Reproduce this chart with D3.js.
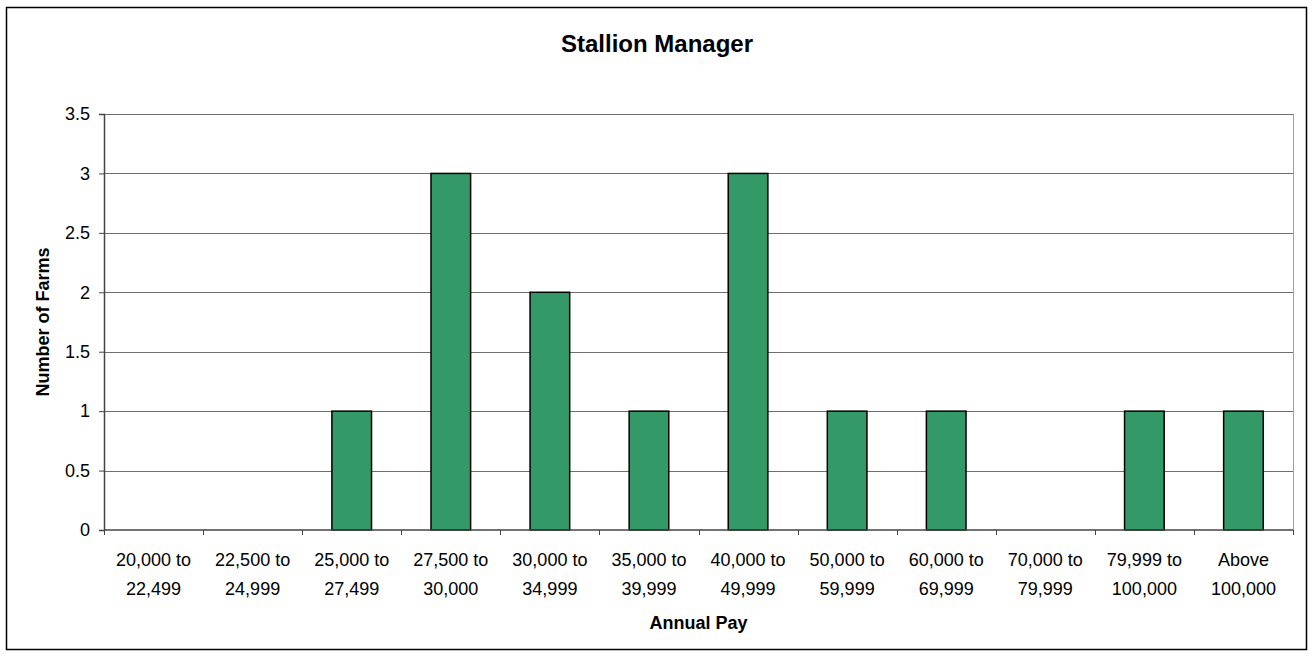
<!DOCTYPE html>
<html>
<head>
<meta charset="utf-8">
<script src="https://cdn.jsdelivr.net/npm/d3@7"></script>
<style>
  body { margin: 0; background: #fff; }
  svg { font-family: "Liberation Sans", Arial, sans-serif; }
</style>
</head>
<body>
<svg id="chart"></svg>
<script>
// chart data
const categories = [
  ["20,000 to", "22,499"], ["22,500 to", "24,999"], ["25,000 to", "27,499"],
  ["27,500 to", "30,000"], ["30,000 to", "34,999"], ["35,000 to", "39,999"],
  ["40,000 to", "49,999"], ["50,000 to", "59,999"], ["60,000 to", "69,999"],
  ["70,000 to", "79,999"], ["79,999 to", "100,000"], ["Above", "100,000"]
];
const farms = [0, 0, 1, 3, 2, 1, 3, 1, 1, 0, 1, 1];
const yTicks = [0, 0.5, 1, 1.5, 2, 2.5, 3, 3.5];

const width = 1312, height = 660;
const margin = { top: 114, right: 19, bottom: 130, left: 104 };
const innerW = width - margin.left - margin.right;
const innerH = height - margin.top - margin.bottom;

const svg = d3.select('#chart').attr('width', width).attr('height', height);

// outer frame
svg.append('rect')
  .attr('x', 6.5).attr('y', 7.5)
  .attr('width', 1300).attr('height', 642)
  .attr('fill', 'none').attr('stroke', '#000').attr('stroke-width', 1.5);

const x = d3.scaleBand()
  .domain(d3.range(categories.length))
  .range([0, innerW])
  .paddingInner(0.6).paddingOuter(0.3);

const y = d3.scaleLinear().domain([0, 3.5]).range([innerH, 0]);

const g = svg.append('g').attr('transform', `translate(${margin.left},${margin.top})`);

// gridlines
g.selectAll('.grid')
  .data(yTicks.filter(d => d > 0))
  .enter().append('line')
  .attr('x1', 0).attr('x2', innerW)
  .attr('y1', d => Math.round(y(d)) + 0.5).attr('y2', d => Math.round(y(d)) + 0.5)
  .attr('stroke', '#6e6e6e').attr('stroke-width', 1);

// right edge of plot area
g.append('line')
  .attr('x1', innerW + 0.5).attr('x2', innerW + 0.5)
  .attr('y1', 0).attr('y2', innerH)
  .attr('stroke', '#a0a0a0');

// bars (skip empty categories)
const barData = farms.map((v, i) => ({ i, v })).filter(d => d.v > 0);
g.selectAll('.bar')
  .data(barData)
  .enter().append('rect')
  .attr('x', d => x(d.i))
  .attr('y', d => y(d.v))
  .attr('width', x.bandwidth())
  .attr('height', d => innerH - y(d.v))
  .attr('fill', '#339966')
  .attr('stroke', '#000').attr('stroke-width', 1.5);

// y axis
const yAxis = d3.axisLeft(y).tickValues(yTicks).tickSize(5).tickPadding(9)
  .tickFormat(d => d);
const ya = g.append('g').call(yAxis);
ya.select('.domain').attr('stroke', '#444').attr('stroke-width', 1.5);
ya.selectAll('.tick line').attr('stroke', '#444');
ya.selectAll('text').attr('font-size', 18).attr('fill', '#000')
  .attr('font-family', '"Liberation Sans", Arial, sans-serif');

// x axis: ticks at category boundaries
const step = innerW / categories.length;
const xa = g.append('g').attr('transform', `translate(0,${innerH})`);
xa.append('line').attr('x1', 0).attr('x2', innerW).attr('y1', 0).attr('y2', 0)
  .attr('stroke', '#444').attr('stroke-width', 1.5);
xa.selectAll('.xt')
  .data(d3.range(categories.length + 1))
  .enter().append('line')
  .attr('x1', d => Math.round(d * step) + 0.5).attr('x2', d => Math.round(d * step) + 0.5)
  .attr('y1', 0).attr('y2', 5)
  .attr('stroke', '#444');

const lbl = xa.selectAll('.xl')
  .data(categories)
  .enter().append('text')
  .attr('text-anchor', 'middle')
  .attr('font-size', 18)
  .attr('transform', (d, i) => `translate(${x(i) + x.bandwidth() / 2},0)`);
lbl.append('tspan').attr('x', 0).attr('y', 36).text(d => d[0]);
lbl.append('tspan').attr('x', 0).attr('y', 65).text(d => d[1]);

// titles
svg.append('text')
  .attr('x', 657).attr('y', 52)
  .attr('text-anchor', 'middle').attr('font-size', 24).attr('font-weight', 'bold')
  .text('Stallion Manager');

svg.append('text')
  .attr('x', margin.left + innerW / 2).attr('y', 629)
  .attr('text-anchor', 'middle').attr('font-size', 18).attr('font-weight', 'bold')
  .text('Annual Pay');

svg.append('text')
  .attr('transform', `translate(49,${margin.top + innerH / 2}) rotate(-90)`)
  .attr('text-anchor', 'middle').attr('font-size', 18).attr('font-weight', 'bold')
  .text('Number of Farms');
</script>
</body>
</html>
